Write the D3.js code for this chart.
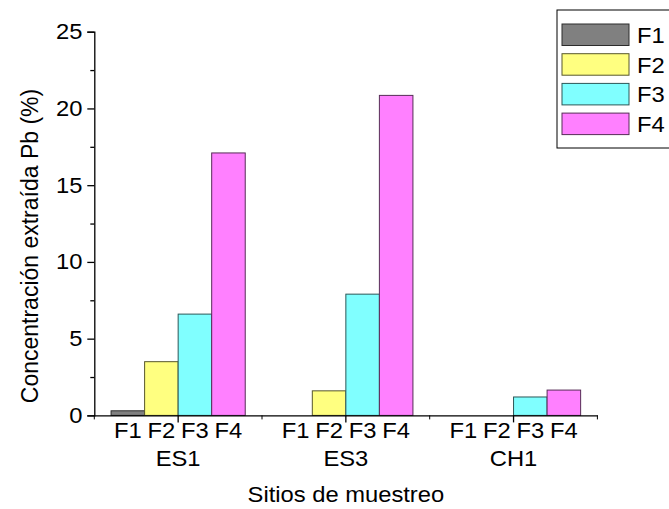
<!DOCTYPE html>
<html>
<head>
<meta charset="utf-8">
<script src="https://cdn.jsdelivr.net/npm/d3@7"></script>
<style>
  body { margin: 0; background: #fff; }
  svg { display: block; font-family: "Liberation Sans", Arial, sans-serif; }
</style>
</head>
<body>
<svg id="chart" width="669" height="509"></svg>
<script>
// data
var sites = ["ES1", "ES3", "CH1"];
var fractions = ["F1", "F2", "F3", "F4"];
var valuesF1 = [0.3, 0, 0];
var valuesF2 = [3.5, 1.6, 0];
var valuesF3 = [6.6, 7.9, 1.2];
var valuesF4 = [17.1, 20.85, 1.65];
var yTicks = [0, 5, 10, 15, 20, 25];
var yMinorTicks = [2.5, 7.5, 12.5, 17.5, 22.5];
var colors = ["#808080", "#ffff80", "#80ffff", "#ff80ff"];

var series = [valuesF1, valuesF2, valuesF3, valuesF4];
var rows = sites.map(function(s, i){
	return { site: s, values: fractions.map(function(f, j){ return { key: f, value: series[j][i], c: colors[j] }; }) };
});

var svg = d3.select("#chart");
var margin = { top: 31.7, left: 94.3, right: 71.6, bottom: 93.6 };
var width = 669 - margin.left - margin.right,
	height = 509 - margin.top - margin.bottom;
var sx = 1.08; // text in the picture is a bit wide
var fs = 22;

var x0 = d3.scaleBand().domain(sites).range([0, width]).padding(0);
var x1 = d3.scaleBand().domain(fractions).range([0, x0.bandwidth()]).paddingInner(0).paddingOuter(0.5);
var y = d3.scaleLinear().domain([0, 25]).range([height, 0]);

var g = svg.append("g").attr("transform", "translate(" + margin.left + "," + margin.top + ")");

// bars
var group = g.append("g").selectAll(".site")
		.data(rows)
		.enter()
		.append("g")
		.attr("class", "site")
		.attr("transform", function(d){ return "translate(" + x0(d.site) + ",0)"; });

group.selectAll("rect")
		.data(function(d){ return d.values.filter(function(v){ return v.value > 0; }); })
		.enter()
		.append("rect")
		.attr("x", function(d){ return x1(d.key); })
		.attr("y", function(d){ return y(d.value); })
		.attr("width", x1.bandwidth())
		.attr("height", function(d){ return height - y(d.value); })
		.style("fill", function(d){ return d.c; })
		.style("stroke", function(d){ return d3.rgb(d.c).darker(3); })
		.style("stroke-width", 1);

// y axis
var yAxis = g.append("g")
		.call(d3.axisLeft(y).tickValues(yTicks).tickSize(7).tickPadding(4).tickFormat(d3.format("d")));
yAxis.selectAll("text")
		.attr("font-size", fs)
		.attr("fill", "#000")
		.attr("transform", "scale(" + sx + ",1)");
g.append("g")
		.call(d3.axisLeft(y).tickValues(yMinorTicks).tickSize(4).tickFormat(""))
		.select(".domain").remove();

// x axis
var xAxis = g.append("g")
		.attr("transform", "translate(0," + height + ")")
		.call(d3.axisBottom(x0).tickSize(7).tickSizeOuter(0).tickFormat(""));
var bounds = sites.map(function(s){ return x0(s); }).concat([width]);
xAxis.selectAll(".minor")
		.data(bounds)
		.enter()
		.append("line")
		.attr("class", "minor")
		.attr("x1", function(d){ return d; })
		.attr("x2", function(d){ return d; })
		.attr("y2", 4)
		.attr("stroke", "#000");
g.selectAll(".domain, .tick line").attr("stroke", "#000").attr("stroke-width", 1.3);

// fraction labels under each bar
group.selectAll(".flabel")
		.data(function(d){ return d.values; })
		.enter()
		.append("text")
		.attr("class", "flabel")
		.attr("transform", function(d){
			return "translate(" + (x1(d.key) + x1.bandwidth() / 2) + "," + (height + 23) + ") scale(" + sx + ",1)";
		})
		.attr("text-anchor", "middle")
		.attr("font-size", fs)
		.text(function(d){ return d.key; });

// site labels
group.append("text")
		.attr("transform", "translate(" + (x0.bandwidth() / 2) + "," + (height + 51) + ") scale(" + sx + ",1)")
		.attr("text-anchor", "middle")
		.attr("font-size", fs)
		.text(function(d){ return d.site; });

// axis titles
g.append("text")
		.attr("transform", "translate(" + (width / 2) + "," + (height + 87) + ") scale(" + sx + ",1)")
		.attr("text-anchor", "middle")
		.attr("font-size", fs)
		.text("Sitios de muestreo");

svg.append("text")
		.attr("transform", "translate(38,246) scale(" + sx + ",1) rotate(-90)")
		.attr("text-anchor", "middle")
		.attr("font-size", fs + 1)
		.text("Concentración extraída Pb (%)");

// legend
var legend = svg.append("g").attr("transform", "translate(557,10)");
legend.append("rect")
		.attr("width", 130)
		.attr("height", 138)
		.style("fill", "#fff")
		.style("stroke", "#000")
		.style("stroke-width", 1);
var item = legend.selectAll(".item")
		.data(fractions)
		.enter()
		.append("g")
		.attr("class", "item")
		.attr("transform", function(d, i){ return "translate(5," + (14 + i * 29.7) + ")"; });
item.append("rect")
		.attr("width", 67)
		.attr("height", 21.5)
		.style("fill", function(d, i){ return colors[i]; })
		.style("stroke", function(d, i){ return d3.rgb(colors[i]).darker(3); });
item.append("text")
		.attr("transform", "translate(75,19) scale(" + sx + ",1)")
		.attr("font-size", fs)
		.text(function(d){ return d; });
</script>
</body>
</html>
